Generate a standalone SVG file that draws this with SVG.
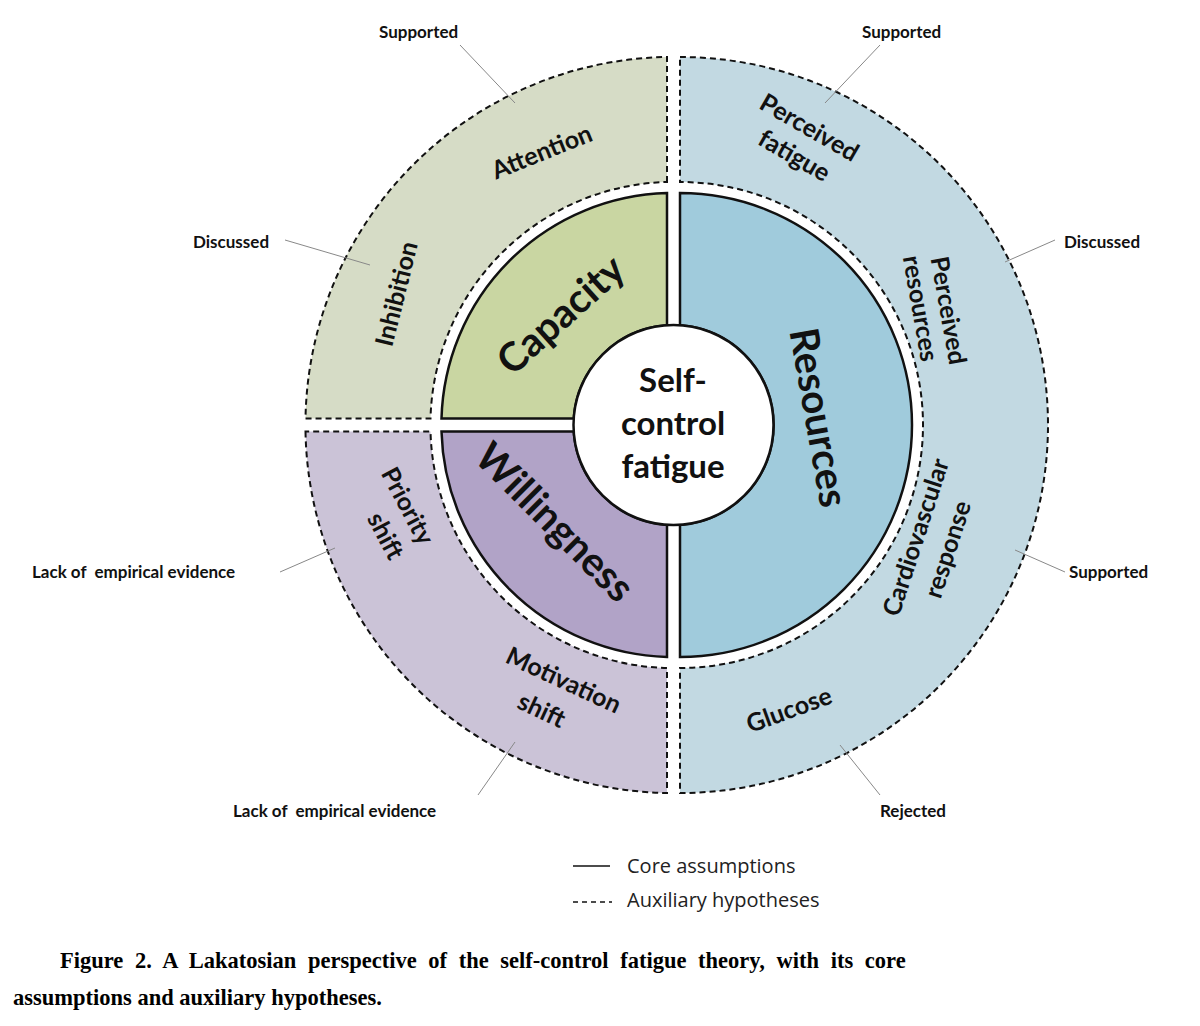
<svg xmlns="http://www.w3.org/2000/svg" width="1200" height="1026" viewBox="0 0 1200 1026">
<style>
.aux{stroke:#111;stroke-width:2;stroke-dasharray:6 4}
.core{stroke:#111;stroke-width:2.5}
.lab{font-family:Lato,"Open Sans",sans-serif;font-weight:bold;fill:#111;text-anchor:middle}
.o{font-size:25px}
.c{font-size:40px}
.n{font-size:17px;font-family:Lato,"Open Sans",sans-serif;font-weight:bold;fill:#111}
.ld{stroke:#888;stroke-width:1}
.cap{font-family:"Liberation Serif",serif;font-weight:bold;font-size:22.5px;fill:#000}
</style>
<rect width="1200" height="1026" fill="#fff"/>
<g id="outer-capacity"><path class="aux" fill="#d6dcc6" d="M667,182 L667,57 A368,368 0 0 0 305.5,418.5 L430.5,418.5 A243,243 0 0 1 667,182 Z"/>
<text class="lab o" transform="translate(545,160) rotate(-22)">Attention</text>
<text class="lab o" transform="translate(405,296) rotate(-76)">Inhibition</text></g>
<g id="outer-willingness"><path class="aux" fill="#cbc3d7" d="M305.5,431.5 A368,368 0 0 0 667,793 L667,668 A243,243 0 0 1 430.5,431.5 Z"/>
<text class="lab o" transform="translate(400,510) rotate(62)">Priority</text>
<text class="lab o" transform="translate(378,540) rotate(62)">shift</text>
<text class="lab o" transform="translate(560,688) rotate(25)">Motivation</text>
<text class="lab o" transform="translate(538,718) rotate(25)">shift</text></g>
<g id="outer-resources"><path class="aux" fill="#c2d9e2" d="M680,57 A368,368 0 0 1 680,793 L680,668 A243,243 0 0 0 680,182 Z"/>
<text class="lab o" transform="translate(805,135) rotate(30)">Perceived</text>
<text class="lab o" transform="translate(790,163) rotate(30)">fatigue</text>
<text class="lab o" transform="translate(940,312) rotate(80)">Perceived</text>
<text class="lab o" transform="translate(912,310) rotate(80)">resources</text>
<text class="lab o" transform="translate(924,540) rotate(-72)">Cardiovascular</text>
<text class="lab o" transform="translate(956,552) rotate(-72)">response</text>
<text class="lab o" transform="translate(792,718) rotate(-20)">Glucose</text></g>
<g id="core-capacity"><path class="core" fill="#c9d6a2" d="M667,325.2 L667,193 A232,232 0 0 0 441.5,418.5 L573.7,418.5 A100,100 0 0 1 667,325.2 Z"/>
<text class="lab c" transform="translate(570,325) rotate(-42)">Capacity</text></g>
<g id="core-willingness"><path class="core" fill="#b1a3c7" d="M441.5,431.5 A232,232 0 0 0 667,657 L667,524.8 A100,100 0 0 1 573.7,431.5 Z"/>
<text class="lab c" transform="translate(545,532) rotate(45)">Willingness</text></g>
<g id="core-resources"><path class="core" fill="#a0cbdc" d="M680,193 A232,232 0 0 1 680,657 L680,524.8 A100,100 0 0 0 680,325.2 Z"/>
<text class="lab c" transform="translate(805,420) rotate(80)">Resources</text></g>
<g id="center"><circle cx="673.5" cy="425" r="100" fill="#fff" stroke="#111" stroke-width="2.5"/>
<text class="lab" font-size="33" x="673" y="392">Self-</text>
<text class="lab" font-size="33" x="673" y="435">control</text>
<text class="lab" font-size="33" x="673" y="478">fatigue</text></g>
<g id="connectors">
<line class="ld" x1="460" y1="45" x2="515" y2="103"/>
<line class="ld" x1="880" y1="45" x2="825" y2="103"/>
<line class="ld" x1="285" y1="240" x2="370" y2="265"/>
<line class="ld" x1="1055" y1="240" x2="1005" y2="262"/>
<line class="ld" x1="280" y1="572" x2="335" y2="548"/>
<line class="ld" x1="1065" y1="572" x2="1015" y2="550"/>
<line class="ld" x1="478" y1="795" x2="515" y2="742"/>
<line class="ld" x1="880" y1="795" x2="840" y2="745"/>
</g>
<g id="notes">
<text class="n" x="379" y="38">Supported</text>
<text class="n" x="862" y="38">Supported</text>
<text class="n" x="193" y="248">Discussed</text>
<text class="n" x="1064" y="248">Discussed</text>
<text class="n" x="32" y="578">Lack of&#160; empirical evidence</text>
<text class="n" x="1069" y="578">Supported</text>
<text class="n" x="233" y="817">Lack of&#160; empirical evidence</text>
<text class="n" x="880" y="817">Rejected</text>
</g>
<g id="legend">
<line x1="573" y1="866" x2="610" y2="866" stroke="#111" stroke-width="1.5"/>
<text x="627" y="873" font-family="'Open Sans',sans-serif" font-size="20" fill="#222">Core assumptions</text>
<line x1="573" y1="902" x2="612" y2="902" stroke="#111" stroke-width="1.5" stroke-dasharray="5 4"/>
<text x="627" y="907" font-family="'Open Sans',sans-serif" font-size="20" fill="#222">Auxiliary hypotheses</text>
</g>
<text class="cap" x="60" y="968" word-spacing="6">Figure 2. A Lakatosian perspective of the self-control fatigue theory, with its core</text>
<text class="cap" x="13" y="1005">assumptions and auxiliary hypotheses.</text>
</svg>
